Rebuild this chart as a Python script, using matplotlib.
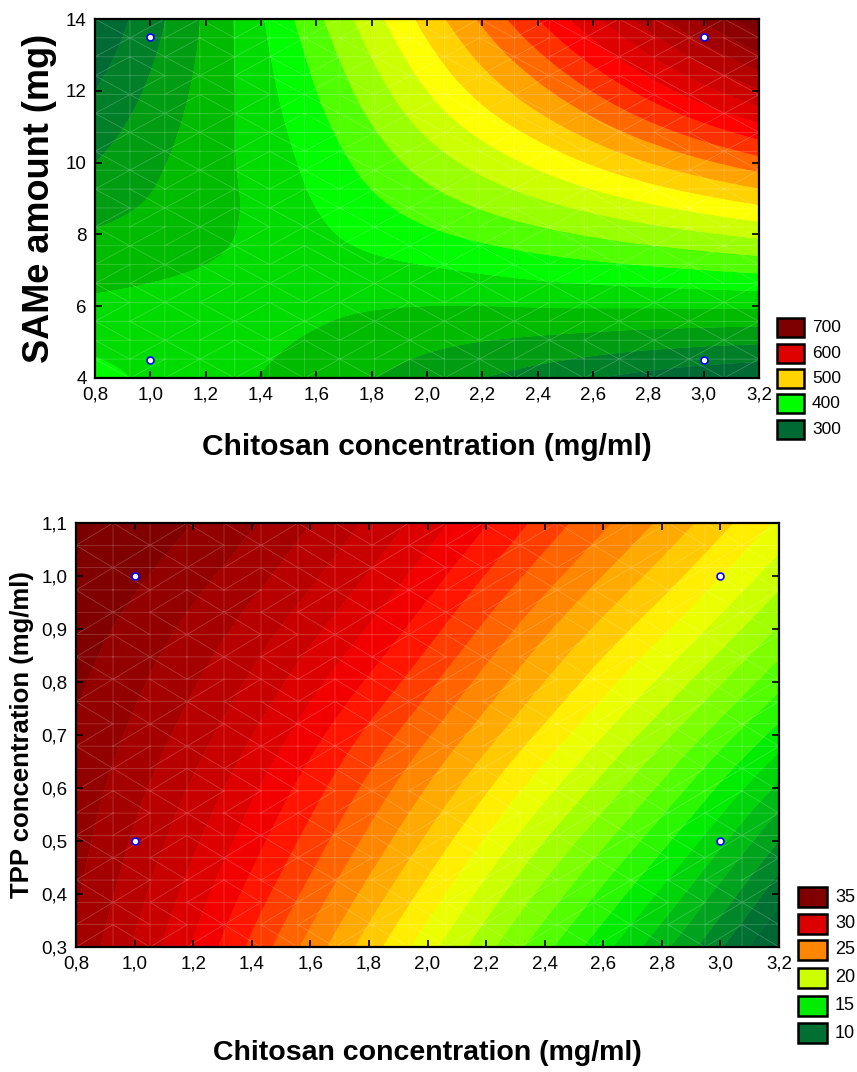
import numpy as np
import matplotlib
matplotlib.use("Agg")
import matplotlib.pyplot as plt
import matplotlib.tri as mtri
from matplotlib.colors import LinearSegmentedColormap
from matplotlib.patches import Rectangle

plt.rcParams['font.family'] = ['Liberation Sans', 'DejaVu Sans']

# --- top chart: response over chitosan conc. x SAMe amount
top_x = [0.8, 1.2, 1.6, 2.0, 2.4, 2.8, 3.2]
top_y = [4, 6, 8, 10, 12, 14]
top_z = [
    [407, 387, 371, 350, 331, 313, 302],
    [384, 387, 384, 380, 381, 382, 383],
    [362, 375, 396, 416, 434, 450, 465],
    [340, 371, 407, 449, 485, 520, 552],
    [320, 367, 420, 480, 534, 588, 638],
    [302, 363, 435, 508, 580, 650, 715],
]
top_pts_x = [1.0, 1.0, 3.0, 3.0]
top_pts_y = [4.5, 13.5, 4.5, 13.5]
top_legend = [700, 600, 500, 400, 300]

# --- bottom chart: response over chitosan conc. x TPP conc.
bot_x = [0.8, 1.2, 1.6, 2.0, 2.4, 2.8, 3.2]
bot_y = [0.3, 0.5, 0.7, 0.9, 1.1]
bot_z = [
    [33.8, 29.9, 25.6, 21.4, 17.3, 13.3, 8.8],
    [34.4, 31.2, 27.6, 23.8, 20.0, 16.3, 12.0],
    [34.9, 32.5, 29.4, 26.1, 22.7, 19.3, 15.6],
    [35.5, 33.7, 31.3, 28.4, 25.2, 22.2, 18.9],
    [36.2, 35.0, 33.0, 30.5, 27.6, 24.8, 21.8],
]
bot_pts_x = [1.0, 1.0, 3.0, 3.0]
bot_pts_y = [0.5, 1.0, 0.5, 1.0]
bot_legend = [35, 30, 25, 20, 15, 10]

# colour anchors (value, colour) for each chart
top_anchor = [(260, '#004f35'), (300, '#006b35'), (320, '#008028'), (340, '#00a010'),
              (360, '#00bb00'), (380, '#00dd00'), (400, '#00ff00'), (420, '#55ff00'),
              (440, '#99ff00'), (460, '#ccff00'), (480, '#ffff00'), (500, '#ffd000'),
              (520, '#ffa500'), (540, '#ff6a00'), (560, '#ff3000'), (580, '#ff0000'),
              (600, '#e00000'), (620, '#cc0000'), (650, '#aa0000'), (680, '#8c0000'),
              (700, '#800000'), (760, '#600000')]
bot_anchor = [(6, '#004f35'), (10, '#006f32'), (15, '#00ee00'), (17, '#55ff00'),
              (20, '#ccff00'), (21.5, '#ffff00'), (23, '#ffcc00'), (25, '#ff8800'),
              (27, '#ff4000'), (28.5, '#ff0000'), (30, '#dd0000'), (35, '#800000'),
              (40, '#600000')]

W, H = 857, 1072
fig = plt.figure(figsize=(W / 100, H / 100), dpi=100)


def make_cmap(anchor):
    v = np.array([a[0] for a in anchor], float)
    pos = (v - v[0]) / (v[-1] - v[0])
    cm = LinearSegmentedColormap.from_list('stat', list(zip(pos, [a[1] for a in anchor])))
    return lambda val: cm((val - v[0]) / (v[-1] - v[0]))


def px_axes(l, t, r, b):
    return fig.add_axes([l / W, 1 - b / H, (r - l) / W, (b - t) / H])


def surface(ax, xs, ys, zs, levels, color_of):
    xs, ys = np.asarray(xs, float), np.asarray(ys, float)
    gx, gy = np.meshgrid((xs - xs[0]) / (xs[-1] - xs[0]), (ys - ys[0]) / (ys[-1] - ys[0]))
    tri = mtri.Triangulation(gx.ravel(), gy.ravel())
    fine, zf = mtri.UniformTriRefiner(tri).refine_field(np.ravel(zs), subdiv=4)
    fx = xs[0] + fine.x * (xs[-1] - xs[0])
    fy = ys[0] + fine.y * (ys[-1] - ys[0])
    tri2 = mtri.Triangulation(fx, fy, fine.triangles)
    cols = [color_of(lv) for lv in levels[:-1]]
    # drawn twice so no seams show between the filled pieces
    ax.tricontourf(tri2, zf, levels=levels, colors=cols, antialiased=True)
    ax.tricontourf(tri2, zf, levels=levels, colors=cols, antialiased=True)
    # faint rendering mesh like the original software
    mx, my = np.meshgrid(np.linspace(xs[0], xs[-1], 20), np.linspace(ys[0], ys[-1], 20))
    mesh = mtri.Triangulation(mx.ravel(), my.ravel())
    ax.triplot(mesh, color='white', lw=0.5, alpha=0.25)
    ax.set_xlim(xs[0], xs[-1])
    ax.set_ylim(ys[0], ys[-1])


def style(ax, xticks, yticks, yfmt):
    ax.set_xticks(xticks)
    ax.set_xticklabels([f"{t:.1f}".replace('.', ',') for t in xticks])
    ax.set_yticks(yticks)
    ax.set_yticklabels([yfmt(t) for t in yticks])
    ax.tick_params(direction='in', length=5, width=1.2, labelsize=13.5, top=True, right=True,
                   pad=6, colors='black')
    for s in ax.spines.values():
        s.set_linewidth(1.6)


def legend(values, color_of, left, centers, bw, bh, fs):
    for v, cy in zip(values, centers):
        fig.add_artist(Rectangle((left / W, 1 - (cy + bh / 2) / H), bw / W, bh / H,
                                 transform=fig.transFigure, facecolor=color_of(v),
                                 edgecolor='black', lw=1.8))
        fig.text((left + bw + 8) / W, 1 - cy / H, str(v), fontsize=fs, va='center', ha='left')


xt = np.round(np.arange(0.8, 3.21, 0.2), 1)

# top chart
top_col = make_cmap(top_anchor)
ax1 = px_axes(95, 19, 759, 378)
surface(ax1, top_x, top_y, top_z, np.arange(240, 781, 20), top_col)
ax1.plot(top_pts_x, top_pts_y, 'o', ms=5, mfc='white', mec='blue', mew=1.2, ls='none')
style(ax1, xt, [4, 6, 8, 10, 12, 14], lambda t: f"{t:d}")
ax1.set_xlabel('Chitosan concentration (mg/ml)', fontsize=21.5, fontweight='bold')
ax1.set_ylabel('SAMe amount (mg)', fontsize=26, fontweight='bold')
ax1.xaxis.label.set_va('center')
ax1.yaxis.label.set_va('center')
ax1.xaxis.set_label_coords(0.5, -(447 - 378) / 359)
ax1.yaxis.set_label_coords((40 - 95) / 664, 0.5)
legend(top_legend, top_col, 777, [327.5, 353.5, 378.5, 403.5, 429], 27, 19, 12.5)

# bottom chart
bot_col = make_cmap(bot_anchor)
ax2 = px_axes(76, 523, 779, 947)
surface(ax2, bot_x, bot_y, bot_z, np.arange(4, 41, 1), bot_col)
ax2.plot(bot_pts_x, bot_pts_y, 'o', ms=5, mfc='white', mec='blue', mew=1.2, ls='none')
style(ax2, xt, np.round(np.arange(0.3, 1.11, 0.1), 1), lambda t: f"{t:.1f}".replace('.', ','))
ax2.set_xlabel('Chitosan concentration (mg/ml)', fontsize=20.5, fontweight='bold')
ax2.set_ylabel('TPP concentration (mg/ml)', fontsize=18.5, fontweight='bold')
ax2.xaxis.label.set_va('center')
ax2.yaxis.label.set_va('center')
ax2.xaxis.set_label_coords(0.5, -(1053 - 947) / 424)
ax2.yaxis.set_label_coords((22 - 76) / 703, 0.5)
legend(bot_legend, bot_col, 798, [897, 924, 950, 978, 1006, 1033], 29, 20, 13)

fig.savefig('out.png', dpi=100)
